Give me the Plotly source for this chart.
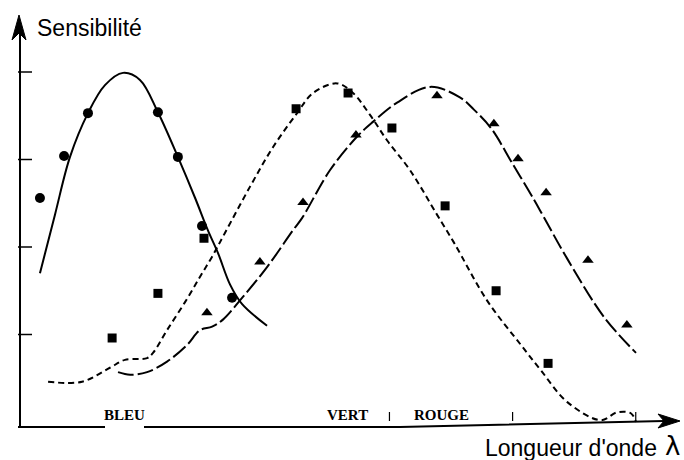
import plotly.graph_objects as go

# Sensitivity curves of the three cone types (wavelength in nm, relative sensitivity)
blue_curve_nm = [408.1, 414.2, 420.3, 427.6, 434.5, 441.8, 448.7, 456.0, 464.1, 471.1,
                 476.3, 480.4, 485.3, 490.1, 500.3]
blue_curve_s = [1.70, 2.37, 3.03, 3.53, 3.85, 3.99, 3.91, 3.54, 3.03, 2.56,
                2.19, 1.93, 1.57, 1.35, 1.10]

green_curve_nm = [411.4, 425.2, 436.5, 442.6, 451.6, 454.0, 459.7, 467.0, 473.1, 478.0,
                  483.2, 493.4, 502.7, 512.5, 519.0, 528.7, 535.2, 542.1, 549.0, 558.3,
                  569.3, 576.2, 589.6, 603.4, 611.5, 622.1, 635.9, 642.3, 648.0, 650.1]
green_curve_s = [0.46, 0.46, 0.62, 0.71, 0.73, 0.79, 1.05, 1.37, 1.66, 1.89,
                 2.16, 2.69, 3.14, 3.53, 3.76, 3.87, 3.76, 3.51, 3.22, 2.88,
                 2.37, 2.05, 1.39, 0.88, 0.59, 0.23, 0.02, 0.11, 0.10, 0.00]

red_curve_nm = [439.8, 444.7, 451.6, 459.7, 467.8, 473.1, 478.0, 482.4, 490.5, 500.3,
                510.8, 514.5, 525.9, 536.8, 543.3, 553.1, 566.5, 578.6, 584.3, 591.2,
                599.8, 608.7, 612.7, 622.1, 637.1, 650.1]
red_curve_s = [0.57, 0.54, 0.57, 0.69, 0.88, 1.05, 1.09, 1.17, 1.43, 1.77,
               2.19, 2.33, 2.88, 3.26, 3.43, 3.65, 3.83, 3.71, 3.57, 3.36,
               2.96, 2.54, 2.34, 1.87, 1.20, 0.79]

# Measured points
blue_pts_nm = [408.1, 417.9, 427.6, 456.0, 464.1, 473.9, 486.1]
blue_pts_s = [2.56, 3.04, 3.53, 3.54, 3.03, 2.24, 1.42]

green_pts_nm = [437.4, 456.0, 474.7, 512.1, 533.2, 551.0, 572.6, 593.3, 614.4]
green_pts_s = [0.96, 1.47, 2.10, 3.58, 3.76, 3.36, 2.47, 1.50, 0.67]

red_pts_nm = [475.9, 497.4, 514.9, 536.4, 569.3, 592.4, 602.2, 613.6, 630.6, 646.4]
red_pts_s = [1.25, 1.83, 2.51, 3.28, 3.73, 3.41, 3.01, 2.62, 1.85, 1.11]

# Axis decorations
band_names = ["BLEU", "VERT", "ROUGE"]
band_peak_nm = [442.4, 533.0, 571.3]
x_ticks_nm = [550, 600, 650]
y_ticks = [1, 2, 3, 4]

X0 = 400.0            # wavelength at the vertical axis
PX_PER_NM = 2.463
PX_PER_UNIT = 87.5
W, H = 684, 460
x_range = [X0 - 20 / PX_PER_NM, X0 + (W - 20) / PX_PER_NM]
y_range = [-(H - 422) / PX_PER_UNIT, 422 / PX_PER_UNIT]

def nm_px(d):
    return d / PX_PER_NM

def s_px(d):
    return d / PX_PER_UNIT

fig = go.Figure()

fig.add_trace(go.Scatter(x=blue_curve_nm, y=blue_curve_s, mode="lines",
                         line=dict(color="black", width=2, shape="spline")))
fig.add_trace(go.Scatter(x=green_curve_nm, y=green_curve_s, mode="lines",
                         line=dict(color="black", width=2, shape="spline", dash="6px,4px")))
fig.add_trace(go.Scatter(x=red_curve_nm, y=red_curve_s, mode="lines",
                         line=dict(color="black", width=2, shape="spline", dash="16px,4px")))

fig.add_trace(go.Scatter(x=blue_pts_nm, y=blue_pts_s, mode="markers",
                         marker=dict(symbol="circle", size=10, color="black")))
fig.add_trace(go.Scatter(x=green_pts_nm, y=green_pts_s, mode="markers",
                         marker=dict(symbol="square", size=9, color="black")))
fig.add_trace(go.Scatter(x=red_pts_nm, y=red_pts_s, mode="markers",
                         marker=dict(symbol="triangle-up", size=10, color="black")))

shapes = []
line_style = dict(color="black", width=2)

# vertical axis with arrow head
y_tip = 407 / PX_PER_UNIT
shapes.append(dict(type="line", x0=X0, x1=X0, y0=-s_px(5), y1=y_tip - s_px(12),
                   line=line_style))
shapes.append(dict(type="path", xref="x", yref="y", xsizemode="pixel", ysizemode="pixel",
                   xanchor=X0 - nm_px(1), yanchor=y_tip,
                   path="M0,0 L-7,-25 L0,-18 L7,-25 Z",
                   fillcolor="black", line=dict(color="black", width=1)))
for t in y_ticks:
    shapes.append(dict(type="line", x0=X0 - nm_px(2), x1=X0 + nm_px(12), y0=t, y1=t,
                       line=dict(color="black", width=1.5)))

# horizontal axis, interrupted by the first band name
x_tip = X0 + 660 / PX_PER_NM
y_base_l = -s_px(5)
y_base_r = s_px(1)
gap_l = X0 + nm_px(85)
gap_r = X0 + nm_px(124)
shapes.append(dict(type="line", x0=X0 - nm_px(2), x1=gap_l, y0=y_base_l, y1=y_base_l,
                   line=line_style))
shapes.append(dict(type="path",
                   path=f"M{gap_r},{y_base_l} L{X0 + nm_px(380)},{y_base_l} "
                        f"L{x_tip - nm_px(16)},{y_base_r}",
                   line=line_style))
shapes.append(dict(type="path", xref="x", yref="y", xsizemode="pixel", ysizemode="pixel",
                   xanchor=x_tip, yanchor=y_base_r,
                   path="M0,0 L-22,7 L-16,0 L-22,-7 Z",
                   fillcolor="black", line=dict(color="black", width=1)))
for t in x_ticks_nm:
    shapes.append(dict(type="line", x0=t, x1=t, y0=s_px(1), y1=s_px(10),
                       line=dict(color="black", width=1.2)))

annotations = []
for name, pk in zip(band_names, band_peak_nm):
    annotations.append(dict(x=pk, y=-s_px(3), xref="x", yref="y", text=f"<b>{name}</b>",
                            showarrow=False, xanchor="center", yanchor="bottom",
                            font=dict(family="Liberation Serif", size=15, color="black")))
annotations.append(dict(x=X0 + nm_px(15), y=394 / PX_PER_UNIT, xref="x", yref="y",
                        text="Sensibilité", showarrow=False, xanchor="left",
                        yanchor="middle",
                        font=dict(family="Liberation Sans", size=23, color="black")))
annotations.append(dict(x=X0 + nm_px(639), y=-26 / PX_PER_UNIT, xref="x", yref="y",
                        text="Longueur d'onde", showarrow=False, xanchor="right",
                        yanchor="middle",
                        font=dict(family="Liberation Sans", size=23, color="black")))
annotations.append(dict(x=X0 + nm_px(652), y=-24 / PX_PER_UNIT, xref="x", yref="y",
                        text="λ", showarrow=False, xanchor="center",
                        yanchor="middle",
                        font=dict(family="DejaVu Sans", size=26, color="black")))

fig.update_layout(
    width=W, height=H,
    margin=dict(l=0, r=0, t=0, b=0),
    paper_bgcolor="white", plot_bgcolor="white",
    showlegend=False,
    shapes=shapes,
    annotations=annotations,
    xaxis=dict(range=x_range, visible=False, fixedrange=True),
    yaxis=dict(range=y_range, visible=False, fixedrange=True),
)

fig.write_html("out.html")
